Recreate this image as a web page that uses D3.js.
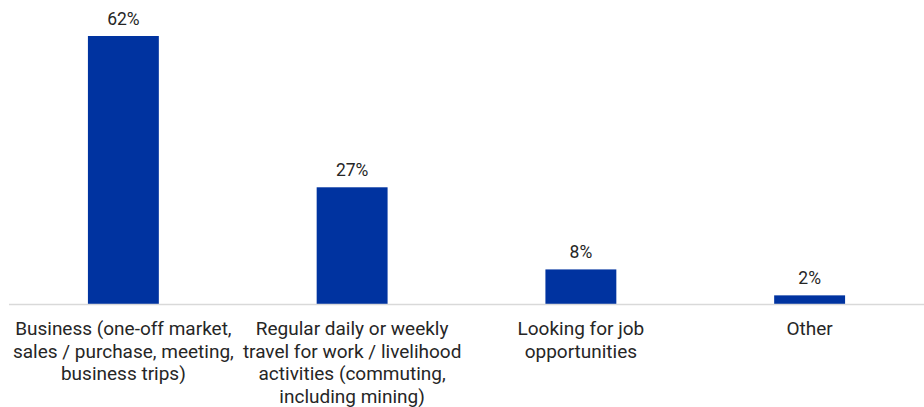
<html>
<head>
<style>
  body { margin: 0; background: #fff; }
  text { font-family: Roboto, sans-serif; }
</style>
</head>
<body>
<script src="https://cdn.jsdelivr.net/npm/d3@7"></script>
<script>
var categories = [
  ["Business (one-off market,", "sales / purchase, meeting,", "business trips)"],
  ["Regular daily or weekly", "travel for work / livelihood", "activities (commuting,", "including mining)"],
  ["Looking for job", "opportunities"],
  ["Other"]
];
var values = [62, 27, 8, 2];

var width = 924, height = 407;
var svg = d3.select("body").append("svg")
  .attr("width", width).attr("height", height);

var x = d3.scaleBand().domain(d3.range(values.length))
  .range([9, 924]).paddingInner(0.69).paddingOuter(0.345);
var y = d3.scaleLinear().domain([0, 62]).range([304, 36]);

svg.selectAll("rect.bar").data(values)
  .enter().append("rect")
  .attr("class", "bar")
  .attr("x", function(d, i) { return x(i); })
  .attr("y", function(d) { return y(d); })
  .attr("width", x.bandwidth())
  .attr("height", function(d) { return y(0) - y(d); })
  .attr("fill", "#0033a0");

svg.append("line")
  .attr("x1", 9).attr("x2", 924)
  .attr("y1", y(0) + 0.5).attr("y2", y(0) + 0.5)
  .attr("stroke", "#d9d9d9").attr("stroke-width", 1.5);

svg.selectAll("text.val").data(values)
  .enter().append("text")
  .attr("class", "val")
  .attr("x", function(d, i) { return x(i) + x.bandwidth() / 2; })
  .attr("y", function(d) { return y(d) - 11; })
  .attr("text-anchor", "middle")
  .attr("font-size", 17.5)
  .attr("fill", "#262626")
  .text(function(d) { return d + "%"; });

svg.selectAll("text.cat").data(categories)
  .enter().append("text")
  .attr("class", "cat")
  .attr("text-anchor", "middle")
  .attr("font-size", 19)
  .attr("fill", "#262626")
  .each(function(lines, i) {
    var cx = x(i) + x.bandwidth() / 2;
    d3.select(this).selectAll("tspan").data(lines)
      .enter().append("tspan")
      .attr("x", cx)
      .attr("y", function(d, j) { return 335 + j * 22.5; })
      .text(function(d) { return d; });
  });
</script>
</body>
</html>
